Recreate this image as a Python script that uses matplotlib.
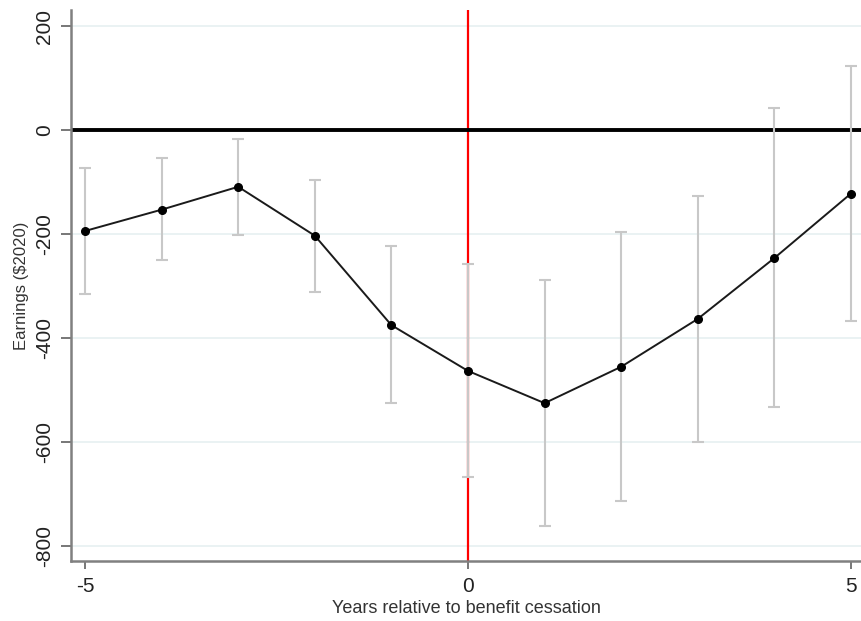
import matplotlib
matplotlib.use('Agg')
import matplotlib.pyplot as plt

plt.rcParams['font.family'] = ['Liberation Sans', 'DejaVu Sans']
plt.rcParams['axes.unicode_minus'] = False

years = [-5, -4, -3, -2, -1, 0, 1, 2, 3, 4, 5]
estimate = [-194, -153, -109, -203, -375, -463, -525, -455, -363, -246, -122]
ci_low = [-315, -250, -201, -311, -525, -667, -762, -713, -599, -533, -367]
ci_high = [-72, -54, -17, -95, -222, -258, -288, -196, -127, 42, 124]

yticks = [200, 0, -200, -400, -600, -800]
xticks = [-5, 0, 5]

fig = plt.figure(figsize=(8.62, 6.21), dpi=100)
ax = fig.add_axes([0.082, 0.097, 0.918, 0.887])

for t in yticks:
    ax.axhline(t, color='#e6f0f1', lw=1.2, zorder=0)

ax.axvline(0, color='#ff0000', lw=1.6, zorder=1)
ax.axhline(0, color='black', lw=2.8, zorder=2)

err_lo = [e - l for e, l in zip(estimate, ci_low)]
err_hi = [h - e for e, h in zip(estimate, ci_high)]
ax.errorbar(years, estimate, yerr=[err_lo, err_hi], fmt='none',
            ecolor='#c8c8c8', elinewidth=1.5, capsize=4, capthick=1.5, zorder=3)
ax.plot(years, estimate, color='#1a1a1a', lw=1.4, marker='o', markersize=5.5,
        markerfacecolor='black', markeredgecolor='black', zorder=4)

ax.set_xlim(-5.187, 5.144)
ax.set_ylim(-828, 231)
ax.set_xticks(xticks)
ax.set_yticks(yticks)
ax.set_yticklabels([str(t) for t in yticks], rotation=90, va='center')

for s in ['top', 'right']:
    ax.spines[s].set_visible(False)
for s in ['left', 'bottom']:
    ax.spines[s].set_color('#808080')
    ax.spines[s].set_linewidth(1.8)

ax.tick_params(axis='y', length=7, width=1.2, color='#606060', labelsize=15, pad=5,
               labelcolor='#222222')
ax.tick_params(axis='x', length=6, width=1.2, color='#606060', labelsize=15, pad=5.5,
               labelcolor='#222222')

ax.set_xlabel('Years relative to benefit cessation', fontsize=13, labelpad=3,
              color='#333333')
ax.set_ylabel('Earnings ($2020)', fontsize=12, labelpad=4, color='#333333')

plt.savefig('out.png', dpi=100)
